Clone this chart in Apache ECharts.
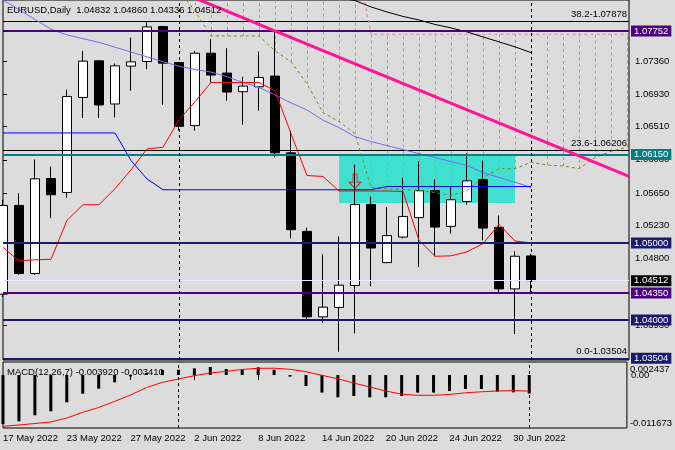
<!DOCTYPE html>
<html><head><meta charset="utf-8">
<script src="https://cdn.jsdelivr.net/npm/echarts@6/dist/echarts.min.js"></script>
<style>html,body{margin:0;padding:0;background:#dcdcdc}#c{width:675px;height:450px}</style>
</head><body><div id="c"></div>
<script>
// ---- data ----
const dates = ['17 May 2022','18 May 2022','19 May 2022','20 May 2022','23 May 2022','24 May 2022','25 May 2022','26 May 2022','27 May 2022','30 May 2022','31 May 2022','1 Jun 2022','2 Jun 2022','3 Jun 2022','6 Jun 2022','7 Jun 2022','8 Jun 2022','9 Jun 2022','10 Jun 2022','13 Jun 2022','14 Jun 2022','15 Jun 2022','16 Jun 2022','17 Jun 2022','20 Jun 2022','21 Jun 2022','22 Jun 2022','23 Jun 2022','24 Jun 2022','27 Jun 2022','28 Jun 2022','29 Jun 2022','30 Jun 2022','1 Jul 2022'];
const open  = [1.04336,1.05488,1.04604,1.05837,1.05656,1.06889,1.07364,1.06804,1.07295,1.07355,1.07808,1.07342,1.06523,1.07463,1.07205,1.06963,1.07027,1.07166,1.06170,1.05151,1.04042,1.04164,1.04449,1.05501,1.04746,1.05077,1.05329,1.05682,1.05216,1.05539,1.05824,1.05203,1.04405,1.04832];
const high  = [1.05561,1.05647,1.06083,1.05992,1.06989,1.07493,1.07370,1.07329,1.07665,1.07872,1.07817,1.07351,1.07493,1.07645,1.07528,1.07157,1.07484,1.07752,1.06458,1.05199,1.04854,1.05087,1.06018,1.05604,1.05466,1.05846,1.06061,1.05828,1.05724,1.06164,1.06070,1.05358,1.04892,1.04860];
const low   = [1.04301,1.04588,1.04588,1.05323,1.05587,1.06622,1.06622,1.06630,1.06976,1.07256,1.06795,1.06458,1.06458,1.07079,1.06846,1.06536,1.06717,1.06113,1.05061,1.04000,1.03965,1.03589,1.03828,1.04440,1.04737,1.05061,1.04689,1.04828,1.05121,1.05497,1.05035,1.04355,1.03819,1.04336];
const close = [1.05488,1.04604,1.05833,1.05626,1.06902,1.07360,1.06791,1.07299,1.07351,1.07804,1.07334,1.06514,1.07463,1.07179,1.06959,1.07036,1.07148,1.06170,1.05173,1.04042,1.04168,1.04453,1.05501,1.04935,1.05096,1.05345,1.05678,1.05207,1.05561,1.05807,1.05194,1.04405,1.04828,1.04512];

const tenkan = [1.04944,1.04767,1.04782,1.04789,1.05294,1.05497,1.05497,1.05704,1.05950,1.06221,1.06242,1.06600,1.06833,1.07083,1.07083,1.07083,1.07083,1.06976,1.06419,1.05876,1.05863,1.05675,1.05675,1.05675,1.05675,1.05669,1.05035,1.04828,1.04834,1.04886,1.04992,1.05242,1.05026,1.05002];
const kijun  = [1.06428,1.06428,1.06428,1.06428,1.06428,1.06428,1.06428,1.06428,1.06070,1.05831,1.05691,1.05691,1.05691,1.05691,1.05691,1.05691,1.05691,1.05691,1.05691,1.05691,1.05691,1.05691,1.05691,1.05691,1.05733,1.05733,1.05733,1.05733,1.05733,1.05733,1.05733,1.05733,1.05733,1.05733];
const maSlow = [1.08153,1.08026,1.07901,1.07774,1.07700,1.07651,1.07603,1.07541,1.07478,1.07416,1.07353,1.07294,1.07251,1.07218,1.07157,1.07084,1.07020,1.06921,1.06818,1.06726,1.06594,1.06497,1.06380,1.06316,1.06264,1.06212,1.06160,1.06109,1.06057,1.06005,1.05915,1.05850,1.05789,1.05721];
const maBlack = [null,null,null,null,null,null,null,null,null,null,null,null,null,null,null,null,null,null,null,null,null,1.08179,1.08147,1.08063,1.07998,1.07940,1.07894,1.07836,1.07791,1.07739,1.07674,1.07610,1.07545,1.07471];
// Senkou spans (shifted forward, 40 bars incl. future)
const spanA = [null,null,null,null,null,null,null,null,null,null,null,1.08270,1.08011,1.07687,1.07687,1.07687,1.07687,1.07493,1.07351,1.07066,1.06691,1.06575,1.06419,1.05721,1.05701,1.05695,1.05682,1.05656,1.05617,1.05682,1.05850,1.05963,1.05963,1.06048,1.06012,1.05999,1.05966,1.06109,1.06190,1.06242];
const spanB = [null,null,null,null,null,null,null,null,null,null,null,1.08787,1.08787,1.08787,1.08787,1.08787,1.08787,1.08787,1.08787,1.08787,1.08787,1.08787,1.08787,1.07709,1.07709,1.07709,1.07709,1.07709,1.07709,1.07709,1.07709,1.07709,1.07709,1.07709,1.07709,1.07709,1.07709,1.07709,1.07709,1.07709];
const cloudStart = 12;

const macd   = [-0.0104,-0.00982,-0.00854,-0.00770,-0.00579,-0.00396,-0.00290,-0.00155,-0.0003,0.0004,0.00106,0.00112,0.00142,0.00170,0.00127,0.00127,0.00163,0.00112,-0.00034,-0.00233,-0.00373,-0.00473,-0.00445,-0.00473,-0.00473,-0.00445,-0.00373,-0.00373,-0.00339,-0.00297,-0.00297,-0.00352,-0.00367,-0.00392];
const signal = [-0.01088,-0.01060,-0.01028,-0.00996,-0.00912,-0.00791,-0.00689,-0.00558,-0.00424,-0.00265,-0.00155,-0.00085,-0.00015,0.00042,0.00078,0.00117,0.00142,0.00144,0.00121,0.00070,-0.00006,-0.00081,-0.00170,-0.00254,-0.00339,-0.00407,-0.00430,-0.00430,-0.00413,-0.00377,-0.00356,-0.00339,-0.00330,-0.00341];

const priceTicks = [1.07360,1.06930,1.06510,1.06080,1.05650,1.05230,1.04800,1.03930];
const dateTickIdx = [0,4,8,12,16,20,24,28,32];
const macdEdgeLabels = [0.002437,-0.011673];
const separators = [11,33];

const levelValues = [1.07752,1.06150,1.05000,1.04512,1.04350,1.04000,1.03504];
const fibValues = [1.07878,1.06206,1.03504];
const fibNames = ['38.2','23.6','0.0'];
const trendX = [12,39.125];
const trendY = [1.08178,1.05864];
const zoneX = [21,32];
const zoneY = [1.06150,1.05520];
const arrowX = [22];
const arrowY = [1.05802];
const titleText = 'EURUSD,Daily  1.04832 1.04860 1.04336 1.04512';
const macdText = 'MACD(12,26,7) -0.003920 -0.003410';

// ---- styles ----
const FONT = "'Liberation Sans', Arial, sans-serif";
const FS = 9.5;
const levelColors = ['#4b0082','#008080','#191970','#e8eeff','#4b0082','#191970','#191970'];
const levelBoxes  = ['#4b0082','#008080','#191970','#000000','#4b0082','#191970','#191970'];
const levelWidths = [2,2,2,1,2,2,2];

const XMAX = 39.125;
const pairs = arr => arr.map((v,i)=>[i,v]).filter(d=>d[1]!=null);

const chart = echarts.init(document.getElementById('c'), null, {renderer:'canvas'});
const option = {
  animation:false,
  backgroundColor:'#dcdcdc',
  textStyle:{fontFamily:FONT},
  title:[
    {text:titleText,left:7,top:5,padding:0,textStyle:{fontSize:FS,fontWeight:'normal',color:'#000',fontFamily:FONT}},
    {text:macdText,left:7,top:367,padding:0,textStyle:{fontSize:FS,fontWeight:'normal',color:'#000',fontFamily:FONT}}
  ],
  grid:[
    {left:3,right:46,top:-1,height:361,show:true,borderColor:'#000',borderWidth:1,backgroundColor:'transparent'},
    {left:3,right:46,top:362,height:66,show:true,borderColor:'#000',borderWidth:1,backgroundColor:'transparent'}
  ],
  xAxis:[
    {type:'value',gridIndex:0,min:0,max:XMAX,show:false,splitLine:{show:false}},
    {type:'value',gridIndex:1,min:0,max:XMAX,splitLine:{show:false},axisLine:{show:false},
     axisTick:{show:true,customValues:dateTickIdx,length:5,lineStyle:{color:'#000'}},
     axisLabel:{customValues:dateTickIdx,formatter:v=>dates[v]||'',align:'left',color:'#000',fontSize:FS,margin:5,fontFamily:FONT}}
  ],
  yAxis:[
    {type:'value',gridIndex:0,position:'right',min:1.034822,max:1.081531,splitLine:{show:false},axisLine:{show:false},
     axisTick:{show:true,customValues:priceTicks,length:4,lineStyle:{color:'#000'}},
     axisLabel:{customValues:priceTicks,formatter:v=>v.toFixed(5),color:'#000',fontSize:FS,margin:6,fontFamily:FONT}},
    {type:'value',gridIndex:1,position:'right',min:-0.011236,max:0.002756,splitLine:{show:false},axisLine:{show:false},
     axisTick:{show:false},
     axisLabel:{customValues:[0],formatter:()=> '0.00',color:'#000',fontSize:FS,margin:4,fontFamily:FONT}},
    {type:'value',gridIndex:1,position:'right',min:-0.012997,max:0.004475,splitLine:{show:false},axisLine:{show:false},
     axisTick:{show:false},
     axisLabel:{customValues:macdEdgeLabels,formatter:v=>v.toFixed(6),color:'#000',fontSize:FS,margin:3,fontFamily:FONT}}
  ],
  series:[
    // fib levels (below the horizontal levels)
    {type:'line',xAxisIndex:0,yAxisIndex:0,data:[],silent:true,
     markLine:{silent:true,precision:6,symbol:['none','none'],z:4,
       data:fibValues.map((v,k)=>({yAxis:v,lineStyle:{color:'#000',width:1,type:'solid'},
         label:{show:true,position:'insideEndTop',distance:2,formatter:fibNames[k]+'-'+v.toFixed(5),color:'#000',fontSize:FS,fontFamily:FONT}}))}},
    // Ichimoku cloud hatch
    {type:'custom',xAxisIndex:0,yAxisIndex:0,z:2,silent:true,
     data:spanA.map((a,i)=>[i,a,spanB[i]]).filter(d=>d[0]>=cloudStart),
     encode:{x:0,y:[1,2]},
     renderItem:(params,api)=>{
       const p1=api.coord([api.value(0),api.value(1)]);
       const p2=api.coord([api.value(0),api.value(2)]);
       return {type:'line',shape:{x1:p1[0]+0.5,y1:p1[1],x2:p2[0]+0.5,y2:p2[1]},style:{stroke:'#c29393',lineWidth:1,lineDash:[3,3]}};
     }},
    // candles
    {type:'candlestick',xAxisIndex:0,yAxisIndex:0,z:3,barWidth:10,silent:true,
     data:dates.map((d,i)=>[i,open[i],close[i],low[i],high[i]]),
     encode:{x:0,y:[1,2,3,4]},
     itemStyle:{color:'#ffffff',color0:'#000000',borderColor:'#000000',borderColor0:'#000000',borderWidth:1},
     markArea:{silent:true,z:1,precision:6,itemStyle:{color:'#40e0d0'},data:[[{xAxis:zoneX[0],yAxis:zoneY[0]},{xAxis:zoneX[1],yAxis:zoneY[1]}]]}},
    {type:'line',name:'SpanA',xAxisIndex:0,yAxisIndex:0,z:4,data:pairs(spanA),showSymbol:false,silent:true,
     lineStyle:{color:'#6b8e23',width:1,type:[3,3]}},
    {type:'line',name:'SpanB',xAxisIndex:0,yAxisIndex:0,z:4,data:pairs(spanB),showSymbol:false,silent:true,
     lineStyle:{color:'#c29393',width:1,type:[3,3]}},
    {type:'line',name:'MAblack',xAxisIndex:0,yAxisIndex:0,z:4,data:pairs(maBlack),showSymbol:false,silent:true,
     lineStyle:{color:'#000',width:1}},
    {type:'line',name:'MAslow',xAxisIndex:0,yAxisIndex:0,z:4,data:pairs(maSlow),showSymbol:false,silent:true,
     lineStyle:{color:'#7b68ee',width:1}},
    {type:'line',name:'Kijun',xAxisIndex:0,yAxisIndex:0,z:4,data:pairs(kijun),showSymbol:false,silent:true,
     lineStyle:{color:'#0000ff',width:1}},
    {type:'line',name:'Tenkan',xAxisIndex:0,yAxisIndex:0,z:4,data:pairs(tenkan),showSymbol:false,silent:true,
     lineStyle:{color:'#ff0000',width:1}},
    {type:'line',name:'Trend',xAxisIndex:0,yAxisIndex:0,z:5,data:trendX.map((x,k)=>[x,trendY[k]]),showSymbol:false,silent:true,
     lineStyle:{color:'#ff1493',width:3}},
    {type:'scatter',xAxisIndex:0,yAxisIndex:0,z:6,silent:true,data:arrowX.map((x,k)=>[x,arrowY[k]]),
     symbol:'path://M4,0L8,0L8,8L12,8L6,14L0,8L4,8Z',symbolSize:[12,14],
     itemStyle:{color:'rgba(0,0,0,0)',borderColor:'#ff0000',borderWidth:1}},
    // horizontal levels + separators
    {type:'line',xAxisIndex:0,yAxisIndex:0,data:[],silent:true,
     markLine:{silent:true,precision:6,symbol:['none','none'],z:5,
       data:levelValues.map((v,k)=>({yAxis:v,lineStyle:{color:levelColors[k],width:levelWidths[k],type:'solid'},
         label:{show:true,position:'end',distance:2,formatter:v.toFixed(5),color:'#fff',backgroundColor:levelBoxes[k],
           padding:[1,3,0,3],lineHeight:10,fontSize:FS,fontFamily:FONT}}))
         .concat(separators.map(x=>({xAxis:x,lineStyle:{color:'#000',width:1,type:[3,3]},label:{show:false}})))}},
    // MACD
    {type:'bar',xAxisIndex:1,yAxisIndex:1,data:pairs(macd),barWidth:3,silent:true,itemStyle:{color:'#000'},
     markLine:{silent:true,symbol:['none','none'],data:separators.map(x=>({xAxis:x,lineStyle:{color:'#000',width:1,type:[3,3]},label:{show:false}}))}},
    {type:'line',xAxisIndex:1,yAxisIndex:1,data:pairs(signal),showSymbol:false,silent:true,lineStyle:{color:'#ff0000',width:1}}
  ]
};
chart.setOption(option);
</script></body></html>
